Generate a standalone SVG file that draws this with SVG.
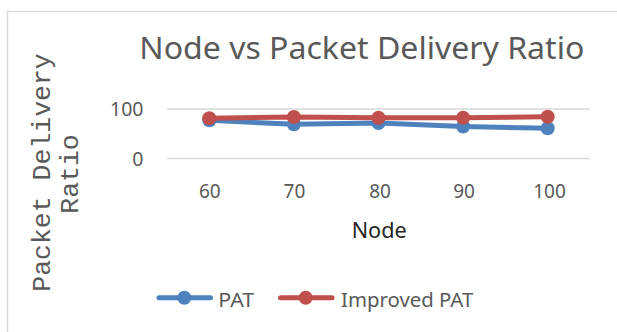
<svg xmlns="http://www.w3.org/2000/svg" width="617" height="332" viewBox="0 0 617 332">
<style>
.lbl{font-family:"Noto Sans","Open Sans","Liberation Sans",sans-serif;fill:#595959}
.grid{stroke:#D9D9D9;stroke-width:1.5}
.ser{fill:none;stroke-width:5;stroke-linejoin:round;stroke-linecap:round}
.pat{stroke:#4F81BD}
.imp{stroke:#C0504D}
.patm{fill:#4F81BD}
.impm{fill:#C0504D}
</style>
<rect x="0" y="0" width="617" height="332" fill="#FFFFFF"/>
<rect id="frame" x="7.5" y="11.5" width="700" height="400" fill="#FFFFFF" stroke="#D9D9D9" stroke-width="1.5"/>
<g id="title">
<text class="lbl" x="139.3" y="59.3" font-size="31.5" textLength="445" lengthAdjust="spacingAndGlyphs">Node vs Packet Delivery Ratio</text>
</g>
<g id="gridlines">
<line class="grid" x1="167" y1="109" x2="590" y2="109"/>
<line class="grid" x1="167" y1="158.5" x2="590" y2="158.5"/>
</g>
<g id="y-axis">
<text class="lbl" x="143.5" y="115.7" font-size="19.5" text-anchor="end">100</text>
<text class="lbl" x="143.5" y="166.3" font-size="19.5" text-anchor="end">0</text>
<text transform="translate(50,172.5) rotate(-90)" font-family="'Liberation Mono','DejaVu Sans Mono',monospace" font-size="26.5" fill="#595959" text-anchor="middle">Packet Delivery</text>
<text transform="translate(78.3,174) rotate(-90)" font-family="'Liberation Mono','DejaVu Sans Mono',monospace" font-size="26.5" fill="#595959" text-anchor="middle">Ratio</text>
</g>
<g id="x-axis">
<text class="lbl" x="209.8" y="198.3" font-size="19" text-anchor="middle">60</text>
<text class="lbl" x="294.4" y="198.3" font-size="19" text-anchor="middle">70</text>
<text class="lbl" x="380" y="198.3" font-size="19" text-anchor="middle">80</text>
<text class="lbl" x="464" y="198.3" font-size="19" text-anchor="middle">90</text>
<text class="lbl" x="549.5" y="198.3" font-size="19" text-anchor="middle">100</text>
<text class="lbl" x="351.7" y="238.3" font-size="22" style="fill:#262626" textLength="55" lengthAdjust="spacingAndGlyphs">Node</text>
</g>
<g id="connectors">
<polyline id="series-pat" class="ser pat" points="209.3,120.3 293.9,124.3 378.5,123 463.1,126.5 547.7,128.3"/>
<g id="markers-pat" class="patm">
<circle cx="209.3" cy="120.3" r="7"/>
<circle cx="293.9" cy="124.3" r="7"/>
<circle cx="378.5" cy="123" r="7"/>
<circle cx="463.1" cy="126.5" r="7"/>
<circle cx="547.7" cy="128.3" r="7"/>
</g>
<polyline id="series-imp" class="ser imp" points="209.3,118.3 293.9,117 378.5,117.7 463.1,117.7 547.7,116.7"/>
<g id="markers-imp" class="impm">
<circle cx="209.3" cy="118.3" r="7"/>
<circle cx="293.9" cy="117" r="7"/>
<circle cx="378.5" cy="117.7" r="7"/>
<circle cx="463.1" cy="117.7" r="7"/>
<circle cx="547.7" cy="116.7" r="7"/>
</g>
</g>
<g id="legend">
<g id="legend-pat">
<line class="ser pat" x1="159" y1="297.7" x2="210.5" y2="297.7"/>
<circle class="patm" cx="184.3" cy="297.7" r="7"/>
<text class="lbl" x="218.3" y="307.3" font-size="20.5" textLength="36" lengthAdjust="spacingAndGlyphs">PAT</text>
</g>
<g id="legend-imp">
<line class="ser imp" x1="280.5" y1="297.7" x2="332" y2="297.7"/>
<circle class="impm" cx="305.7" cy="297.7" r="7"/>
<text class="lbl" x="341" y="307.3" font-size="20.5" textLength="132.3" lengthAdjust="spacingAndGlyphs">Improved PAT</text>
</g>
</g>
</svg>
